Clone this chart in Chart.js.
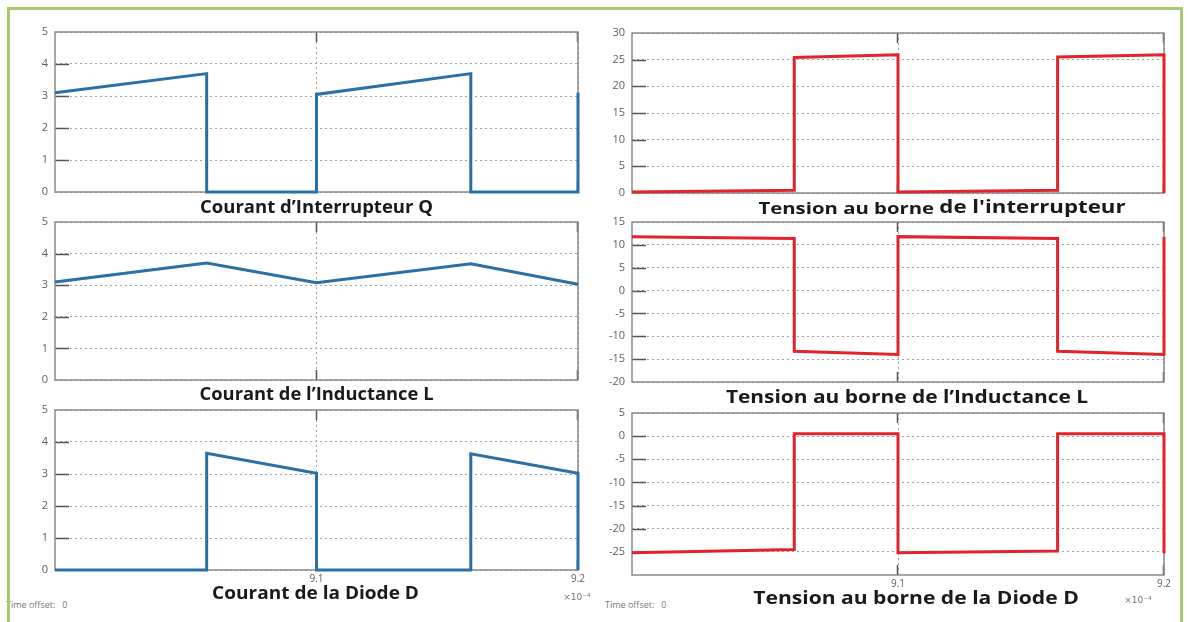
<!DOCTYPE html>
<html>
<head>
<meta charset="utf-8">
<title>Convertisseur – formes d'onde</title>
<script src="https://cdn.jsdelivr.net/npm/chart.js@4.4.1/dist/chart.umd.min.js"></script>
<style>
  html, body { margin: 0; padding: 0; background: #fff; }
  #page { position: relative; width: 1188px; height: 622px; overflow: hidden; background: #fff; }
  .panel { position: absolute; }
  .panel canvas { display: block; }
  .offset { position: absolute; font: 9px "Open Sans", sans-serif; color: #777; white-space: pre; }
  #frame { position: absolute; left: 7px; top: 7px; width: 1176px; height: 660px;
           border: 3px solid #a6ca6e; box-sizing: border-box; z-index: 5; pointer-events: none; }
</style>
</head>
<body>
<div id="page">
  <div class="offset" style="left:6px;top:598px">Time offset:   0</div>
  <div class="offset" style="left:605px;top:598px">Time offset:   0</div>
  <div id="frame"></div>
</div>
<script>
// Time axis in units of 1e-4 s
const xTicks = [9.1, 9.2];

// Currents (A)
const tCurrent  = [9.0, 9.058, 9.058, 9.1, 9.1, 9.159, 9.159, 9.2, 9.2];
const iSwitch   = [3.1, 3.7, 0, 0, 3.05, 3.7, 0, 0, 3.1];
const tInductor = [9.0, 9.058, 9.1, 9.159, 9.2];
const iInductor = [3.1, 3.7, 3.08, 3.68, 3.03];
const iDiode    = [0, 0, 3.65, 3.02, 0, 0, 3.63, 3.02, 0];

// Voltages (V)
const tVoltage  = [9.0, 9.061, 9.061, 9.1, 9.1, 9.16, 9.16, 9.2, 9.2];
const vSwitch   = [0.2, 0.5, 25.4, 25.9, 0.2, 0.5, 25.5, 25.9, 0];
const vInductor = [11.8, 11.4, -13.3, -14.0, 11.8, 11.4, -13.3, -14.0, 11.8];
const vDiode    = [-25.2, -24.5, 0.5, 0.5, -25.2, -24.8, 0.5, 0.5, -25.3];

// Y tick values
const yTicksCurrent  = [0, 1, 2, 3, 4, 5];
const yTicksSwitchV  = [0, 5, 10, 15, 20, 25, 30];
const yTicksInductV  = [-20, -15, -10, -5, 0, 5, 10, 15];
const yTicksDiodeV   = [-25, -20, -15, -10, -5, 0, 5];

const BLUE = '#2a70a4';
const RED = '#e1232d';
const GRID = '#a3a3a3';
const TICK_TEXT = '#5e5e5e';

// Plot box, inward tick marks and caption for one panel
function makeDecor(caption) {
  return {
    id: 'panelDecor',
    beforeDatasetsDraw(chart) {
      const { ctx, chartArea: a, scales: { x, y } } = chart;
      ctx.save();
      ctx.strokeStyle = '#555';
      ctx.lineWidth = 1.5;
      ctx.beginPath();
      y.ticks.forEach(t => {
        const py = Math.round(y.getPixelForValue(t.value)) + 0.5;
        if (py > a.top + 2 && py < a.bottom - 2) {
          ctx.moveTo(a.left, py); ctx.lineTo(a.left + 14, py);
        }
      });
      x.ticks.forEach(t => {
        const px = Math.round(x.getPixelForValue(t.value)) - 0.5;
        ctx.moveTo(px, a.top); ctx.lineTo(px, a.top + 10);
        ctx.moveTo(px, a.bottom); ctx.lineTo(px, a.bottom - 10);
      });
      ctx.stroke();
      ctx.strokeStyle = '#8a8a8a';
      ctx.lineWidth = 1.5;
      ctx.strokeRect(a.left, a.top, a.right - a.left, a.bottom - a.top);
      ctx.restore();
    },
    afterDraw(chart) {
      const { ctx, chartArea: a } = chart;
      ctx.save();
      ctx.fillStyle = '#1a1a1a';
      ctx.textBaseline = 'middle';
      ctx.textAlign = 'left';
      const widths = caption.parts.map(p => {
        ctx.font = `bold ${p.size}px "Open Sans", sans-serif`;
        return ctx.measureText(p.text).width;
      });
      const total = widths.reduce((s, w) => s + w, 0);
      ctx.translate((a.left + a.right) / 2 + caption.dx, a.bottom + caption.dy);
      ctx.scale(caption.stretch, 1);
      let px = -total / 2;
      caption.parts.forEach((p, i) => {
        ctx.font = `bold ${p.size}px "Open Sans", sans-serif`;
        ctx.fillText(p.text, px, p.shift || 0);
        px += widths[i];
      });
      ctx.restore();
      if (caption.exponent) {
        ctx.save();
        ctx.font = '9px "DejaVu Sans", sans-serif';
        ctx.fillStyle = '#777';
        ctx.textAlign = 'center';
        ctx.textBaseline = 'middle';
        ctx.fillText('\u00d710\u207b\u2074', a.right + caption.exponent.dx, a.bottom + caption.exponent.dy);
        ctx.restore();
      }
    }
  };
}

function buildPanel(cfg) {
  const page = document.getElementById('page');
  const host = document.createElement('div');
  host.className = 'panel';
  Object.assign(host.style, {
    left: cfg.box.x + 'px', top: cfg.box.y + 'px',
    width: cfg.box.w + 'px', height: cfg.box.h + 'px'
  });
  const canvas = document.createElement('canvas');
  canvas.width = cfg.box.w;
  canvas.height = cfg.box.h;
  host.appendChild(canvas);
  page.insertBefore(host, document.getElementById('frame'));

  const yAxisW = cfg.area.L - cfg.box.x;
  const padTop = cfg.area.T - cfg.box.y;
  const padRight = cfg.box.x + cfg.box.w - cfg.area.R;
  const xAxisH = cfg.box.y + cfg.box.h - cfg.area.B;

  new Chart(canvas, {
    type: 'line',
    data: {
      datasets: [{
        data: cfg.t.map((x, i) => ({ x, y: cfg.v[i] })),
        borderColor: cfg.color,
        borderWidth: 3,
        pointRadius: 0,
        tension: 0,
        fill: false,
        clip: 6,
        borderJoinStyle: 'miter'
      }]
    },
    options: {
      responsive: false,
      animation: false,
      events: [],
      layout: { padding: { left: 0, top: padTop, right: padRight, bottom: 0 } },
      plugins: {
        legend: { display: false },
        tooltip: { enabled: false }
      },
      scales: {
        x: {
          type: 'linear', min: 9.0, max: 9.2,
          afterBuildTicks: s => { s.ticks = xTicks.map(v => ({ value: v })); },
          afterFit: s => { s.height = xAxisH; },
          grid: { color: GRID, lineWidth: 1, drawTicks: false },
          border: { display: false, dash: [2, 3] },
          ticks: {
            display: cfg.xLabels, padding: 3, color: TICK_TEXT, maxRotation: 0, autoSkip: false,
            font: { family: '"Open Sans", sans-serif', size: 10 },
            callback: v => Number(v).toFixed(1)
          }
        },
        y: {
          min: cfg.yMin, max: cfg.yMax,
          afterBuildTicks: s => { s.ticks = cfg.yTicks.map(v => ({ value: v })); },
          afterFit: s => { s.width = yAxisW; },
          grid: { color: GRID, lineWidth: 1, drawTicks: false },
          border: { display: false, dash: [2, 3] },
          ticks: {
            padding: 7, color: TICK_TEXT,
            font: { family: '"Open Sans", sans-serif', size: 11 },
            callback: v => String(v)
          }
        }
      }
    },
    plugins: [makeDecor(cfg.caption)]
  });
}

const leftCol = { x: 10, w: 584, L: 55, R: 578 };
const rightCol = { x: 594, w: 586, L: 632, R: 1164 };

const panels = [
  { col: leftCol, y: 12, h: 212, T: 32, B: 192, t: tCurrent, v: iSwitch, color: BLUE,
    yMin: 0, yMax: 5, yTicks: yTicksCurrent, xLabels: false,
    caption: { parts: [{ text: 'Courant d\u2019Interrupteur Q', size: 17 }], dx: 0, dy: 16, stretch: 1.09 } },
  { col: leftCol, y: 204, h: 212, T: 222, B: 380, t: tInductor, v: iInductor, color: BLUE,
    yMin: 0, yMax: 5, yTicks: yTicksCurrent, xLabels: false,
    caption: { parts: [{ text: 'Courant de l\u2019Inductance L', size: 17 }], dx: 0, dy: 15, stretch: 1.08 } },
  { col: leftCol, y: 392, h: 230, T: 410, B: 570, t: tCurrent, v: iDiode, color: BLUE,
    yMin: 0, yMax: 5, yTicks: yTicksCurrent, xLabels: true,
    caption: { parts: [{ text: 'Courant de la Diode D', size: 17 }], dx: -1, dy: 24, stretch: 1.12,
               exponent: { dx: -1, dy: 28 } } },
  { col: rightCol, y: 12, h: 212, T: 33, B: 193, t: tVoltage, v: vSwitch, color: RED,
    yMin: 0, yMax: 30, yTicks: yTicksSwitchV, xLabels: false,
    caption: { parts: [{ text: 'Tension au borne ', size: 16, shift: 1 }, { text: 'de l\'interrupteur', size: 17.5 }], dx: 44, dy: 15, stretch: 1.27 } },
  { col: rightCol, y: 204, h: 212, T: 222, B: 382, t: tVoltage, v: vInductor, color: RED,
    yMin: -20, yMax: 15, yTicks: yTicksInductV, xLabels: false,
    caption: { parts: [{ text: 'Tension au borne de l\u2019Inductance L', size: 17 }], dx: 9, dy: 16, stretch: 1.23 } },
  { col: rightCol, y: 392, h: 230, T: 413, B: 575, t: tVoltage, v: vDiode, color: RED,
    yMin: -30, yMax: 5, yTicks: yTicksDiodeV, xLabels: true,
    caption: { parts: [{ text: 'Tension au borne de la Diode D', size: 17 }], dx: 18, dy: 24, stretch: 1.24,
               exponent: { dx: -26, dy: 26 } } }
];

panels.forEach(p => buildPanel({
  box: { x: p.col.x, y: p.y, w: p.col.w, h: p.h },
  area: { L: p.col.L, R: p.col.R, T: p.T, B: p.B },
  t: p.t, v: p.v, color: p.color,
  yMin: p.yMin, yMax: p.yMax, yTicks: p.yTicks, xLabels: p.xLabels,
  caption: p.caption
}));
</script>
</body>
</html>
